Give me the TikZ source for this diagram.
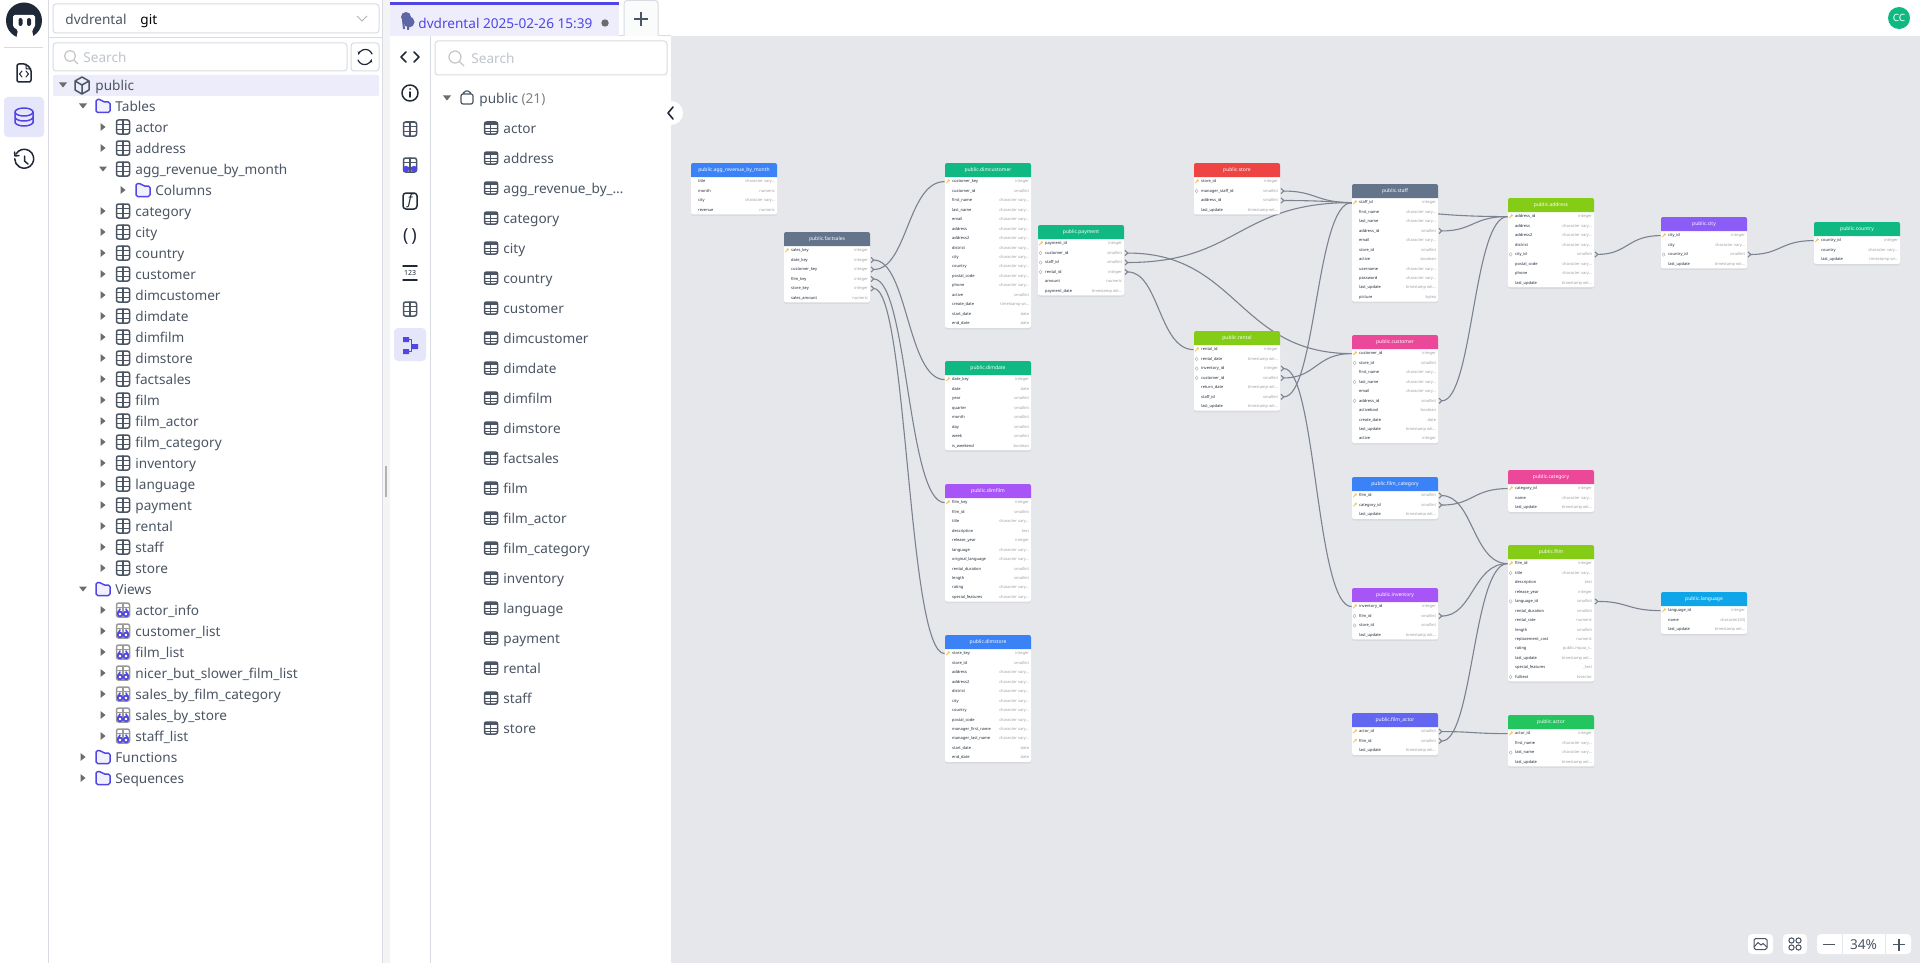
\documentclass[tikz,border=0pt]{standalone}
\usepackage{fontspec}
\setmainfont{Noto Sans}
\usetikzlibrary{arrows.meta,calc,backgrounds,shadows}

\definecolor{canvasbg}{HTML}{E5E7EB}
\definecolor{gapbg}{HTML}{F3F4F6}
\definecolor{linegray}{HTML}{D8DBE1}
\definecolor{uitext}{HTML}{4B5563}
\definecolor{uidark}{HTML}{1F2937}
\definecolor{uiholder}{HTML}{BFC4CC}
\definecolor{accent}{HTML}{4F46E5}
\definecolor{accentbg}{HTML}{E6E6FB}
\definecolor{rowbg}{HTML}{ECECFB}
\definecolor{fkgray}{HTML}{7B8290}
\definecolor{keyamber}{HTML}{F9C45C}
\definecolor{tblblue}{HTML}{3B82F6}
\definecolor{tblslate}{HTML}{64748B}
\definecolor{tblemerald}{HTML}{10B981}
\definecolor{tblred}{HTML}{EF4444}
\definecolor{tbllime}{HTML}{84CC16}
\definecolor{tblpink}{HTML}{EC4899}
\definecolor{tblviolet}{HTML}{8B5CF6}
\definecolor{tblpurple}{HTML}{A855F7}
\definecolor{tblindigo}{HTML}{6366F1}
\definecolor{tblgreen}{HTML}{22C55E}
\definecolor{tblsky}{HTML}{0EA5E9}

\newcommand{\cvary}{character vary…}
\newcommand{\tswit}{timestamp wit…}
\newcommand{\tswi}{timestamp wi…}

% one table of the diagram: id, x, top, rows, colour, title, columns
\newcommand{\dbtable}[7]{%
  \pgfmathsetmacro{\tblh}{23+(#4-1)*9.45}
  \node[tblbody, minimum height=\tblh*.5pt] (#1) at (#2+43,#3+\tblh/2) {};
  \fill[#5] (#2,#3+14) {[rounded corners=1pt] -- (#2,#3) -- (#2+86,#3)} -- (#2+86,#3+14) -- cycle;
  \node[tbltitle] (#1-title) at (#2+43,#3+7) {#6};
  \foreach \colmark/\colname/\coltype [count=\i] in {#7} {
    \node[colrow] (#1-\i) at (#2+43,#3+18.6+\i*9.45-9.45) {};
    \node[colname] (#1-\i-name) at ([xshift=3.6pt]#1-\i.west) {\colname};
    \node[coltype] (#1-\i-type) at ([xshift=-1pt]#1-\i.east) {\coltype};
    \pic at ([xshift=1.5pt]#1-\i.west) {\colmark};
  }
}
% foreign key line, from the column of one table to the key of another
\newcommand{\fklink}[2]{%
  \draw[fkline] let \p1=(#1.east), \p2=(#2.west), \n1={.5*(\x2-\x1)} in
    (\p1) .. controls +(\n1,0pt) and +(-\n1,0pt) .. (\p2);
}

\begin{document}
\catcode`\_=12
\begin{tikzpicture}[
  x=.5pt, y=-.5pt,
  uilabel/.style={font=\fontsize{6.8}{8.5}\selectfont, text=uitext, anchor=west, inner sep=0pt,
                  text height=7pt, text depth=1.5pt},
  holder/.style={uilabel, text=uiholder},
  uibox/.style={draw=linegray, line width=.5pt, fill=white, rounded corners=1.5pt},
  tblbody/.style={rectangle, fill=white, rounded corners=1pt, minimum width=43pt, inner sep=0pt,
                  drop shadow={opacity=.12, shadow xshift=0pt, shadow yshift=-.8pt}},
  tbltitle/.style={font=\fontsize{2.5}{3}\selectfont, text=white, inner sep=0pt},
  colrow/.style={rectangle, minimum width=43pt, minimum height=4.7pt, inner sep=0pt},
  colname/.style={font=\fontsize{2}{2.4}\selectfont, text=uidark, anchor=west, inner sep=0pt,
                  text height=1.7pt, text depth=.45pt},
  coltype/.style={colname, text=gray!75, anchor=east},
  fkline/.style={{Straight Barb[reversed, length=1.4pt, width=2.6pt]}-, line width=.55pt, draw=fkgray},
  icon/.style={draw=uitext, line width=.75pt, line cap=round, line join=round},
  blueicon/.style={draw=accent, line width=.75pt, line cap=round, line join=round},
  ctrlbtn/.style={rectangle, fill=white, rounded corners=2pt, inner sep=0pt},
  pk/.pic={\draw[keyamber, line width=.4pt] (-1.4,1.4) -- (1,-1); \fill[keyamber] (1.2,-1.2) circle[radius=1.3];},
  fk/.pic={\draw[gray!60, line width=.2pt] (-1.5,0) -- (0,-1.8) -- (1.5,0) -- (0,1.8) -- cycle;},
  no/.pic={},
  triright/.pic={\fill[gray!85!black] (-2.5,-4) -- (2.5,0) -- (-2.5,4) -- cycle;},
  tridown/.pic={\fill[gray!85!black] (-4,-2.5) -- (4,-2.5) -- (0,2.5) -- cycle;},
  gridicon/.pic={\draw[icon, rounded corners=1pt] (-6.5,-7) rectangle (6.5,7);
                 \draw[icon] (-6.5,-2.5) -- (6.5,-2.5) (-6.5,2.5) -- (6.5,2.5) (0,-7) -- (0,7);},
  headicon/.pic={\draw[icon, rounded corners=1pt] (-6.5,-6) rectangle (6.5,6);
                 \fill[uitext] (-6.5,-6) rectangle (6.5,-3);
                 \draw[icon, line width=.5pt] (-6.5,0) -- (6.5,0) (-6.5,3) -- (6.5,3) (-1,-3) -- (-1,6);},
  viewicon/.pic={\draw[gray!80, line width=.75pt, rounded corners=1pt] (-6.5,-7) rectangle (6.5,7);
                 \draw[gray!80, line width=.6pt] (-6.5,-2.5) -- (6.5,-2.5) (-6.5,2) -- (6.5,2) (0,-7) -- (0,7);
                 \draw[blueicon, line width=.8pt, fill=white] (-3,4) circle[radius=2.3] (3,4) circle[radius=2.3];
                 \draw[blueicon, line width=.8pt] (-5,3) -- (-3,-1) (5,3) -- (3,-1);},
  foldericon/.pic={\draw[blueicon, fill=accentbg!55, rounded corners=.8pt]
                 (-7,6.5) -- (-7,-6.5) -- (-2,-6.5) -- (0,-4) -- (7,-4) -- (7,6.5) -- cycle;}
]

\useasboundingbox (0,0) rectangle (1920,963);

% Canvas and panels
\begin{scope}[on background layer]
  \fill[white] (0,0) rectangle (1920,963);
  \fill[gapbg] (382,0) rectangle (390,963);
  \fill[canvasbg] (671,36) rectangle (1920,963);
\end{scope}
\draw[linegray, line width=.5pt] (48.5,0) -- (48.5,963);
\draw[linegray, line width=.5pt] (48.5,38) -- (382,38);
\draw[linegray, line width=.5pt] (382.5,0) -- (382.5,963);
\draw[linegray, line width=.5pt] (430,36) -- (430,963);
\draw[linegray, line width=.5pt] (619,36) -- (671,36);
\draw[gray!60, line width=1pt] (386,466) -- (386,497);

% Rail
\fill[uidark] (24,20.5) circle[radius=18];
\fill[white, rounded corners=.8pt] (13,15) -- (35,15) -- (35,27) -- (32,30) -- (34,40) -- (16,40) -- (18,30) -- (13,27) -- cycle;
\fill[uidark, rounded corners=1pt] (18.5,18) rectangle (22.5,26) (27,18) rectangle (31,26);
\draw[linegray, line width=.5pt] (4,48) -- (43,48);
\draw[icon, draw=uidark, rounded corners=1pt] (17,82) -- (17,64) -- (26,64) -- (31,69) -- (31,82) -- cycle;
\draw[icon, draw=uidark, line width=.5pt] (22,71) -- (19.5,74) -- (22,77) (26,71) -- (28.5,74) -- (26,77) (26,64) -- (26,69) -- (31,69);
\fill[accentbg, rounded corners=2pt] (4,97) rectangle (44,137);
\draw[blueicon] (24,112) ellipse[x radius=9, y radius=4];
\draw[blueicon] (15,112) -- (15,123) (33,112) -- (33,123) (15,117) arc[start angle=180, end angle=360, x radius=9, y radius=-4] (15,122) arc[start angle=180, end angle=360, x radius=9, y radius=-4];
\draw[icon, draw=uidark] (16,154) arc[start angle=-150, end angle=180, radius=9.5];
\draw[icon, draw=uidark] (15,156) -- (14.5,152) (15,156) -- (19,155.5) (24.5,156) -- (24.5,161) -- (28,164);

% Schema selector and tree
\node[uibox, minimum width=163pt, minimum height=14.5pt, inner sep=0pt] (selector) at (216,18.5) {};
\node[uilabel] (selectordb) at (65,19) {dvdrental};
\node[uilabel, text=black, font=\fontsize{6.8}{8.5}\selectfont\bfseries] (selectorgit) at (140,19) {git};
\draw[gray!60, line width=.5pt] (357,16) -- (362,21) -- (367,16);
\node[uibox, minimum width=147pt, minimum height=14pt, inner sep=0pt] (treesearch) at (200,57) {};
\draw[gray!45, line width=.6pt] (70,56) circle[radius=5.5] (74,60) -- (78,64);
\node[holder] (treesearchtext) at (83,57) {Search};
\node[uibox, minimum width=14pt, minimum height=14pt, inner sep=0pt] (refresh) at (365,57) {};
\draw[icon, draw=uidark, line width=.6pt, -{Stealth[length=2pt]}] (372,54) arc[start angle=-20, end angle=-170, radius=7];
\draw[icon, draw=uidark, line width=.6pt, -{Stealth[length=2pt]}] (358,60) arc[start angle=160, end angle=10, radius=7];

\fill[rowbg, rounded corners=1pt] (53,75) rectangle (379,96);
\pic at (63,85) {tridown};
\draw[icon] (82,77) -- (89,81) -- (89,90) -- (82,94) -- (75,90) -- (75,81) -- cycle (75,81) -- (82,85) -- (89,81) (82,85) -- (82,94);
\node[uilabel] (treepublic) at (95,85) {public};
\pic at (83,106) {tridown};
\pic at (103,106) {foldericon};
\node[uilabel] (treetables) at (115,106) {Tables};
\foreach \tname/\trow/\ttri in {actor/2/triright, address/3/triright, agg_revenue_by_month/4/tridown,
    category/6/triright, city/7/triright, country/8/triright, customer/9/triright, dimcustomer/10/triright,
    dimdate/11/triright, dimfilm/12/triright, dimstore/13/triright, factsales/14/triright, film/15/triright,
    film_actor/16/triright, film_category/17/triright, inventory/18/triright, language/19/triright,
    payment/20/triright, rental/21/triright, staff/22/triright, store/23/triright} {
  \pic at (103,85+21*\trow) {\ttri};
  \pic at (123,85+21*\trow) {gridicon};
  \node[uilabel] (tree-\trow) at (135,85+21*\trow) {\tname};
}
\pic at (123,190) {triright};
\pic at (143,190) {foldericon};
\node[uilabel] (treecolumns) at (155,190) {Columns};
\pic at (83,589) {tridown};
\pic at (103,589) {foldericon};
\node[uilabel] (treeviews) at (115,589) {Views};
\foreach \vname/\vrow in {actor_info/25, customer_list/26, film_list/27, nicer_but_slower_film_list/28,
    sales_by_film_category/29, sales_by_store/30, staff_list/31} {
  \pic at (103,85+21*\vrow) {triright};
  \pic at (123,85+21*\vrow) {viewicon};
  \node[uilabel] (tree-\vrow) at (135,85+21*\vrow) {\vname};
}
\pic at (83,757) {triright};
\pic at (103,757) {foldericon};
\node[uilabel] (treefunctions) at (115,757) {Functions};
\pic at (83,778) {triright};
\pic at (103,778) {foldericon};
\node[uilabel] (treesequences) at (115,778) {Sequences};

% Tab bar
\fill[accentbg!70] (390,5) rectangle (619,36);
\fill[accent] (390,2) rectangle (619,5);
\fill[tblslate!70!accent] (406,17) circle[radius=5] (409,22) circle[radius=5.5];
\draw[tblslate!70!accent, line width=1pt] (403,20) -- (404,29) (408,24) -- (408,30);
\node[uilabel, text=accent] (tabtitle) at (418,23) {dvdrental 2025-02-26 15:39};
\fill[gray!85!black] (605,23) circle[radius=3.7];
\draw[linegray, line width=.5pt, fill=gapbg!40, rounded corners=1.5pt] (624,36) -- (624,.5) -- (658,.5) -- (658,36);
\draw[uitext, line width=.8pt] (634,19) -- (648,19) (641,12) -- (641,26);
\node[circle, fill=tblemerald, minimum size=11pt, inner sep=0pt, text=white,
      font=\fontsize{5}{6}\selectfont] (avatar) at (1899,18) {CC};

% Tool column
\draw[icon, draw=uidark] (406,52) -- (401,57) -- (406,62) (414,52) -- (419,57) -- (414,62);
\draw[icon, draw=uidark] (410,93) circle[radius=8];
\fill[uidark] (410,89) circle[radius=1];
\draw[icon, draw=uidark] (410,92) -- (410,97);
\pic at (410,129) {gridicon};
\pic at (410,165) {gridicon};
\fill[accent] (406,169) circle[radius=3.2] (414,169) circle[radius=3.2];
\draw[icon, draw=uidark, rounded corners=1.5pt] (403,193) rectangle (417,209);
\node[font=\fontsize{7}{8}\selectfont\itshape\bfseries, text=uidark, inner sep=0pt] (toolfunc) at (410,201) {f};
\node[font=\fontsize{9}{10}\selectfont, text=uidark, inner sep=0pt] (toolparen) at (410,236) {(\,)};
\draw[icon, draw=uidark] (403,266) -- (417,266) (403,280) -- (417,280);
\node[font=\fontsize{3.5}{4}\selectfont, text=uidark, inner sep=0pt] (toolseq) at (410,273) {123};
\pic at (410,309) {gridicon};
\fill[accentbg, rounded corners=2pt] (394,328) rectangle (426,361);
\fill[accent] (403,337) rectangle (409,342) (403,349) rectangle (409,354) (412,344) rectangle (418,349);
\draw[blueicon, line width=.5pt] (409,339) -- (411,339) -- (411,346) -- (412,346) (409,351) -- (411,351) -- (411,346);

% Table list
\node[uibox, minimum width=116pt, minimum height=17pt, inner sep=0pt] (listsearch) at (551,58) {};
\draw[gray!45, line width=.6pt] (455,57) circle[radius=6] (459.5,61.5) -- (464,66);
\node[holder] (listsearchtext) at (471,58) {Search};
\pic at (447,98) {tridown};
\draw[icon, line width=.6pt, rounded corners=1pt] (461,94) rectangle (473,104) (463,94) -- (464,91) -- (470,91) -- (471,94);
\node[uilabel] (listpublic) at (479,98) {public \textcolor{gray}{(21)}};
\foreach \lname [count=\lrow from 0] in {actor, address, agg_revenue_by_…, category, city, country, customer,
    dimcustomer, dimdate, dimfilm, dimstore, factsales, film, film_actor, film_category, inventory,
    language, payment, rental, staff, store} {
  \pic at (491,128+30*\lrow) {headicon};
  \node[uilabel] (list-\lrow) at (503,128+30*\lrow) {\lname};
}
\node[circle, fill=white, minimum size=12pt, inner sep=0pt] (collapse) at (671,113) {};
\draw[icon, draw=uidark, line width=.8pt] (673,107) -- (668,113) -- (673,119);

% Dimensional tables
\dbtable{agg}{691}{163}{4}{tblblue}{public.agg_revenue_by_month}{
  no/title/\cvary, no/month/numeric, no/city/\cvary, no/revenue/numeric}
\dbtable{factsales}{784}{232}{6}{tblslate}{public.factsales}{
  pk/sales_key/integer, no/date_key/integer, no/customer_key/integer, no/film_key/integer,
  no/store_key/integer, no/sales_amount/numeric}
\dbtable{dimcustomer}{945}{163}{16}{tblemerald}{public.dimcustomer}{
  pk/customer_key/integer, no/customer_id/smallint, no/first_name/\cvary, no/last_name/\cvary,
  no/email/\cvary, no/address/\cvary, no/address2/\cvary, no/district/\cvary, no/city/\cvary,
  no/country/\cvary, no/postal_code/\cvary, no/phone/\cvary, no/active/smallint,
  no/create_date/\tswi, no/start_date/date, no/end_date/date}
\dbtable{dimdate}{945}{361}{8}{tblemerald}{public.dimdate}{
  pk/date_key/integer, no/date/date, no/year/smallint, no/quarter/smallint, no/month/smallint,
  no/day/smallint, no/week/smallint, no/is_weekend/boolean}
\dbtable{dimfilm}{945}{484}{11}{tblpurple}{public.dimfilm}{
  pk/film_key/integer, no/film_id/smallint, no/title/\cvary, no/description/text, no/release_year/integer,
  no/language/\cvary, no/original_language/\cvary, no/rental_duration/smallint, no/length/smallint,
  no/rating/\cvary, no/special_features/\cvary}
\dbtable{dimstore}{945}{635}{12}{tblblue}{public.dimstore}{
  pk/store_key/integer, no/store_id/smallint, no/address/\cvary, no/address2/\cvary, no/district/\cvary,
  no/city/\cvary, no/country/\cvary, no/postal_code/\cvary, no/manager_first_name/\cvary,
  no/manager_last_name/\cvary, no/start_date/date, no/end_date/date}

% Rental tables
\dbtable{payment}{1038}{225}{6}{tblemerald}{public.payment}{
  pk/payment_id/integer, fk/customer_id/smallint, fk/staff_id/smallint, fk/rental_id/integer,
  no/amount/numeric, no/payment_date/\tswit}
\dbtable{store}{1194}{163}{4}{tblred}{public.store}{
  pk/store_id/integer, fk/manager_staff_id/smallint, no/address_id/smallint, no/last_update/\tswit}
\dbtable{rental}{1194}{331}{7}{tbllime}{public.rental}{
  pk/rental_id/integer, fk/rental_date/\tswit, fk/inventory_id/integer, fk/customer_id/smallint,
  no/return_date/\tswit, no/staff_id/smallint, no/last_update/\tswit}
\dbtable{staff}{1352}{184}{11}{tblslate}{public.staff}{
  pk/staff_id/integer, no/first_name/\cvary, no/last_name/\cvary, no/address_id/smallint, no/email/\cvary,
  no/store_id/smallint, no/active/boolean, no/username/\cvary, no/password/\cvary,
  no/last_update/\tswit, no/picture/bytea}
\dbtable{customer}{1352}{335}{10}{tblpink}{public.customer}{
  pk/customer_id/integer, fk/store_id/smallint, no/first_name/\cvary, fk/last_name/\cvary, no/email/\cvary,
  fk/address_id/smallint, no/activebool/boolean, no/create_date/date, no/last_update/\tswit, no/active/integer}
\dbtable{filmcategory}{1352}{477}{3}{tblblue}{public.film_category}{
  pk/film_id/smallint, pk/category_id/smallint, no/last_update/\tswit}
\dbtable{inventory}{1352}{588}{4}{tblpurple}{public.inventory}{
  pk/inventory_id/integer, fk/film_id/smallint, fk/store_id/smallint, no/last_update/\tswit}
\dbtable{filmactor}{1352}{713}{3}{tblindigo}{public.film_actor}{
  pk/actor_id/smallint, pk/film_id/smallint, no/last_update/\tswit}
\dbtable{address}{1508}{198}{8}{tbllime}{public.address}{
  pk/address_id/integer, no/address/\cvary, no/address2/\cvary, no/district/\cvary, fk/city_id/smallint,
  no/postal_code/\cvary, no/phone/\cvary, no/last_update/\tswit}
\dbtable{category}{1508}{470}{3}{tblpink}{public.category}{
  pk/category_id/integer, no/name/\cvary, no/last_update/\tswit}
\dbtable{film}{1508}{545}{13}{tbllime}{public.film}{
  pk/film_id/integer, fk/title/\cvary, no/description/text, no/release_year/integer, fk/language_id/smallint,
  no/rental_duration/smallint, no/rental_rate/numeric, no/length/smallint, no/replacement_cost/numeric,
  no/rating/public.mpaa_r…, no/last_update/\tswit, no/special_features/_text, fk/fulltext/tsvector}
\dbtable{actor}{1508}{715}{4}{tblgreen}{public.actor}{
  pk/actor_id/integer, no/first_name/\cvary, fk/last_name/\cvary, no/last_update/\tswit}
\dbtable{city}{1661}{217}{4}{tblviolet}{public.city}{
  pk/city_id/integer, no/city/\cvary, fk/country_id/smallint, no/last_update/\tswit}
\dbtable{language}{1661}{592}{3}{tblsky}{public.language}{
  pk/language_id/integer, no/name/character(20), no/last_update/\tswit}
\dbtable{country}{1814}{222}{3}{tblemerald}{public.country}{
  pk/country_id/integer, no/country/\cvary, no/last_update/\tswi}

% Foreign keys
\begin{scope}[on background layer]
  \fklink{factsales-2}{dimdate-1}
  \fklink{factsales-3}{dimcustomer-1}
  \fklink{factsales-4}{dimfilm-1}
  \fklink{factsales-5}{dimstore-1}
  \fklink{payment-2}{customer-1}
  \fklink{payment-3}{staff-1}
  \fklink{payment-4}{rental-1}
  \fklink{store-2}{staff-1}
  \fklink{store-3}{address-1}
  \fklink{rental-3}{inventory-1}
  \fklink{rental-4}{customer-1}
  \fklink{rental-6}{staff-1}
  \fklink{staff-4}{address-1}
  \fklink{customer-6}{address-1}
  \fklink{address-5}{city-1}
  \fklink{city-3}{country-1}
  \fklink{filmcategory-1}{film-1}
  \fklink{filmcategory-2}{category-1}
  \fklink{inventory-2}{film-1}
  \fklink{filmactor-1}{actor-1}
  \fklink{filmactor-2}{film-1}
  \fklink{film-5}{language-1}
\end{scope}

% Canvas controls
\node[ctrlbtn, minimum width=12.5pt, minimum height=10pt] (btnimage) at (1760.5,944) {};
\draw[uitext, line width=.5pt, rounded corners=.8pt] (1754,938.5) rectangle (1767,949.5);
\draw[uitext, line width=.5pt] (1754,947) -- (1758,942.5) -- (1761,945) -- (1763,943.5) -- (1767,947);
\node[ctrlbtn, minimum width=12pt, minimum height=10pt] (btnlayout) at (1795,944) {};
\draw[uitext, line width=.5pt] (1791.5,940.5) circle[radius=2.6] (1798.5,940.5) circle[radius=2.6]
      (1791.5,947.5) circle[radius=2.6] (1798.5,947.5) circle[radius=2.6];
\node[ctrlbtn, minimum width=47pt, minimum height=10pt] (btnzoom) at (1864,944) {};
\draw[canvasbg, line width=.5pt] (1842,934) -- (1842,954) (1885,934) -- (1885,954);
\draw[uitext, line width=.7pt] (1823,944.5) -- (1835,944.5) (1893,944.5) -- (1905,944.5) (1899,938.5) -- (1899,950.5);
\node[uilabel, anchor=center] (zoomlevel) at (1863.5,944) {34\%};
\end{tikzpicture}
\end{document}
